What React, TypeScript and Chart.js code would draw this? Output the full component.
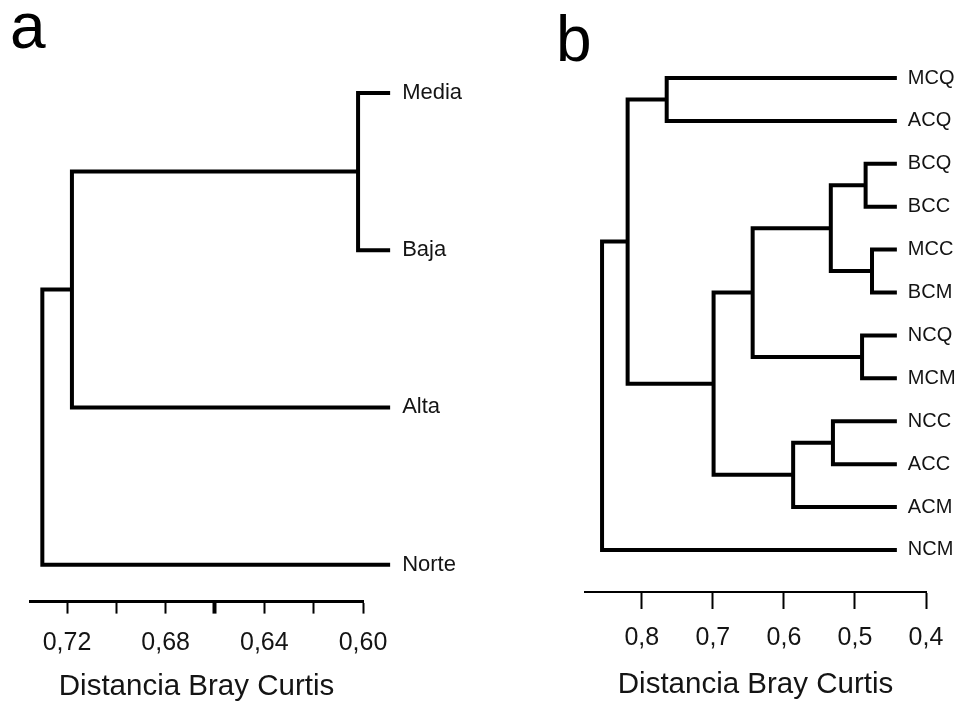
import React, { useEffect, useRef } from 'react';
import { Chart, registerables } from 'chart.js';

Chart.register(...registerables);

const FONT = "'Liberation Sans', Arial, sans-serif";

// ---------- Panel a ----------
const leavesA = ['Media', 'Baja', 'Alta', 'Norte'];
const leafDistA = 0.589;
const mergeLeftA = ['Media', '#0', '#1'];
const mergeRightA = ['Baja', 'Alta', 'Norte'];
const mergeHeightA = [0.602, 0.718, 0.73];
const tickValuesA = [0.6, 0.62, 0.64, 0.66, 0.68, 0.7, 0.72];
const tickLabelsA = ['0,60', '', '0,64', '', '0,68', '', '0,72'];

// ---------- Panel b ----------
const leavesB = ['MCQ', 'ACQ', 'BCQ', 'BCC', 'MCC', 'BCM', 'NCQ', 'MCM', 'NCC', 'ACC', 'ACM', 'NCM'];
const leafDistB = 0.441;
const mergeLeftB = ['MCQ', 'BCQ', 'MCC', '#1', 'NCQ', '#3', 'NCC', '#6', '#5', '#0', '#9'];
const mergeRightB = ['ACQ', 'BCC', 'BCM', '#2', 'MCM', '#4', 'ACC', 'ACM', '#7', '#8', 'NCM'];
const mergeHeightB = [0.765, 0.485, 0.476, 0.534, 0.49, 0.644, 0.531, 0.587, 0.699, 0.82, 0.856];
const tickValuesB = [0.4, 0.5, 0.6, 0.7, 0.8];
const tickLabelsB = ['0,4', '0,5', '0,6', '0,7', '0,8'];

const axisTitle = 'Distancia Bray Curtis';

function buildTree(leaves: string[], leafDist: number, left: string[], right: string[], heights: number[]) {
  const pos: Record<string, { x: number; y: number }> = {};
  leaves.forEach((n, i) => (pos[n] = { x: leafDist, y: i }));
  const datasets: any[] = [];
  for (let i = 0; i < heights.length; i++) {
    const a = pos[left[i]];
    const b = pos[right[i]];
    const h = heights[i];
    datasets.push({
      data: [
        { x: a.x, y: a.y },
        { x: h, y: a.y },
        { x: h, y: b.y },
        { x: b.x, y: b.y },
      ],
      borderColor: '#000',
      borderWidth: 4,
      pointRadius: 0,
      tension: 0,
      fill: false,
      clip: false,
      borderCapStyle: 'butt',
      borderJoinStyle: 'miter',
    });
    pos['#' + i] = { x: h, y: (a.y + b.y) / 2 };
  }
  return datasets;
}

function makeLabelPlugin(leaves: string[], leafDist: number, fontSize: number, gap: number, letter: string, lx: number, ly: number) {
  return {
    id: 'leafLabels' + letter,
    afterDatasetsDraw(chart: any) {
      const { ctx } = chart;
      const xs = chart.scales.x;
      const ys = chart.scales.y;
      ctx.save();
      ctx.fillStyle = '#141414';
      ctx.font = `${fontSize}px ${FONT}`;
      ctx.textBaseline = 'middle';
      ctx.textAlign = 'left';
      leaves.forEach((n, i) => {
        ctx.fillText(n, xs.getPixelForValue(leafDist) + gap, ys.getPixelForValue(i));
      });
      ctx.font = `64px ${FONT}`;
      ctx.textBaseline = 'alphabetic';
      ctx.fillStyle = '#000';
      ctx.fillText(letter, lx, ly);
      ctx.restore();
    },
  };
}

function Panel(props: {
  width: number;
  left: number;
  build: () => any;
}) {
  const ref = useRef<HTMLCanvasElement>(null);
  useEffect(() => {
    if (!ref.current) return;
    const chart = new Chart(ref.current, props.build());
    return () => chart.destroy();
  }, []);
  return (
    <canvas
      ref={ref}
      width={props.width}
      height={705}
      style={{ position: 'absolute', left: props.left, top: 0, width: props.width, height: 705 }}
    />
  );
}

function configA() {
  return {
    type: 'line',
    data: { datasets: buildTree(leavesA, leafDistA, mergeLeftA, mergeRightA, mergeHeightA) },
    options: {
      responsive: false,
      maintainAspectRatio: false,
      animation: false,
      layout: { padding: { left: 30, right: 117, top: 61.5, bottom: 0 } },
      plugins: { legend: { display: false }, tooltip: { enabled: false } },
      scales: {
        x: {
          type: 'linear',
          reverse: true,
          min: 0.6,
          max: 0.735,
          afterBuildTicks: (s: any) => {
            s.ticks = tickValuesA.map((v) => ({ value: v }));
          },
          ticks: {
            callback: (_v: any, i: number) => tickLabelsA[i],
            font: { size: 25, family: FONT },
            color: '#141414',
            padding: 14.5,
            maxRotation: 0,
            autoSkip: false,
          },
          grid: {
            display: true,
            drawOnChartArea: false,
            drawTicks: true,
            tickLength: 12,
            tickColor: '#000',
            tickWidth: (ctx: any) => (ctx.tick && Math.abs(ctx.tick.value - 0.66) < 1e-6 ? 4 : 2),
          },
          border: { display: true, color: '#000', width: 3 },
          title: {
            display: true,
            text: axisTitle,
            font: { size: 29.5, family: FONT },
            color: '#141414',
            padding: { top: -3, bottom: 0 },
          },
        },
        y: { type: 'linear', display: false, reverse: true, min: -0.2, max: 3.235 },
      },
    },
    plugins: [makeLabelPlugin(leavesA, leafDistA, 22, 12, 'a', 10, 48)],
  };
}

function configB() {
  return {
    type: 'line',
    data: { datasets: buildTree(leavesB, leafDistB, mergeLeftB, mergeRightB, mergeHeightB) },
    options: {
      responsive: false,
      maintainAspectRatio: false,
      animation: false,
      layout: { padding: { left: 105, right: 29, top: 35.1, bottom: 0.6 } },
      plugins: { legend: { display: false }, tooltip: { enabled: false } },
      scales: {
        x: {
          type: 'linear',
          reverse: true,
          min: 0.4,
          max: 0.88,
          afterBuildTicks: (s: any) => {
            s.ticks = tickValuesB.map((v) => ({ value: v }));
          },
          ticks: {
            callback: (_v: any, i: number) => tickLabelsB[i],
            font: { size: 25, family: FONT },
            color: '#141414',
            padding: 14,
            maxRotation: 0,
            autoSkip: false,
          },
          grid: {
            display: true,
            drawOnChartArea: false,
            drawTicks: true,
            tickLength: 17,
            tickColor: '#000',
            tickWidth: 2,
          },
          border: { display: true, color: '#000', width: 2 },
          title: {
            display: true,
            text: axisTitle,
            font: { size: 29.5, family: FONT },
            color: '#141414',
            padding: { top: 0, bottom: 2 },
          },
        },
        y: { type: 'linear', display: false, reverse: true, min: -1, max: 11.98 },
      },
    },
    plugins: [makeLabelPlugin(leavesB, leafDistB, 20, 11, 'b', 76, 61)],
  };
}

export default function App() {
  return (
    <div style={{ position: 'absolute', left: 0, top: 0, width: 955, height: 705, background: '#fff', overflow: 'hidden' }}>
      <Panel width={480} left={0} build={configA} />
      <Panel width={475} left={480} build={configB} />
    </div>
  );
}
